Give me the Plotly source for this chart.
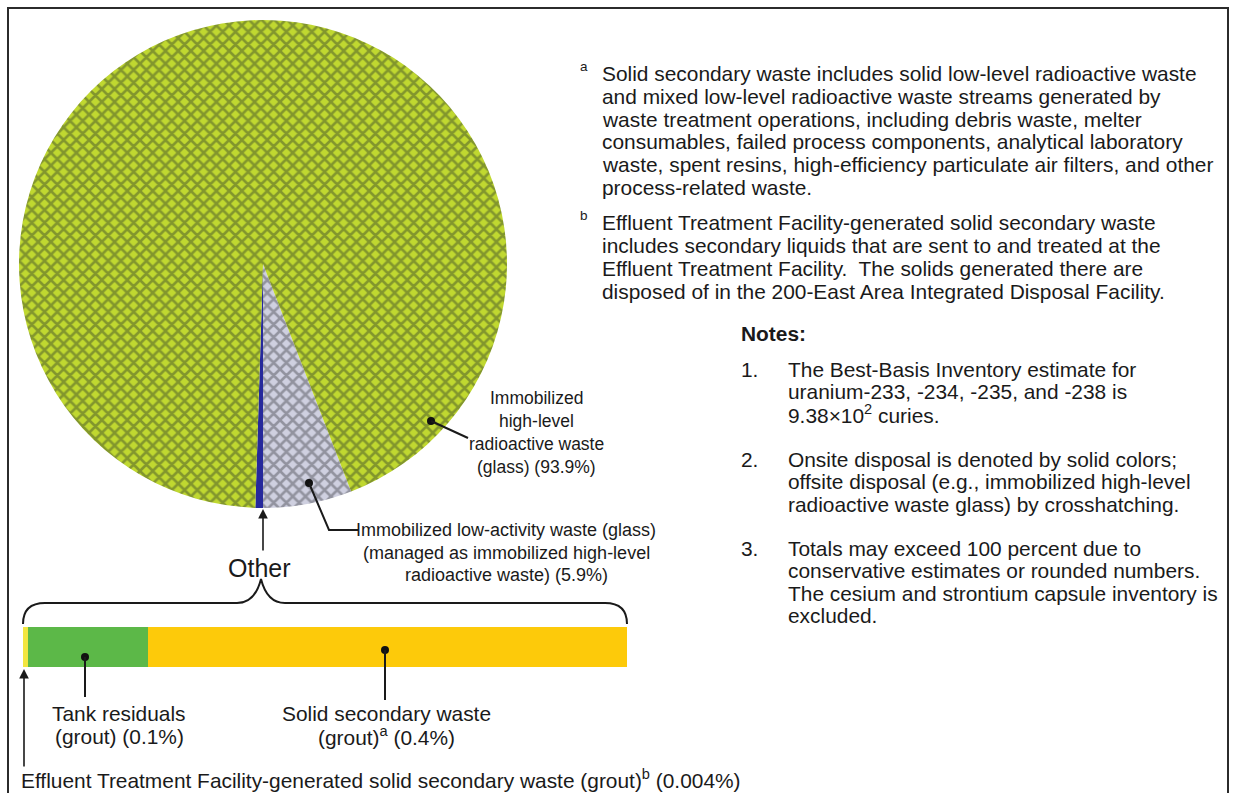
import plotly.graph_objects as go

W, H = 1233, 793
FONT = "Liberation Sans, Arial, sans-serif"

# ---------------- data ----------------
pie_labels = ["Immobilized low-activity waste (glass)", "Other", "Immobilized high-level radioactive waste (glass)"]
pie_values = [5.9, 0.504, 93.9]
pie_bg = ["#cfd0e0", "#26299c", "#c0d830"]
pie_fg = ["#55555e", "#26299c", "#44532a"]
pie_shape = ["x", "", "x"]

bar_labels = ["Effluent Treatment Facility-generated solid secondary waste (grout)",
              "Tank residuals (grout)", "Solid secondary waste (grout)"]
bar_values = [0.004, 0.1, 0.4]
bar_colors = ["#f2e640", "#5cb848", "#fdca0a"]

footnote_a = ["Solid secondary waste includes solid low-level radioactive waste",
              "and mixed low-level radioactive waste streams generated by",
              "waste treatment operations, including debris waste, melter",
              "consumables, failed process components, analytical laboratory",
              "waste, spent resins, high-efficiency particulate air filters, and other",
              "process-related waste."]
footnote_b = ["Effluent Treatment Facility-generated solid secondary waste",
              "includes secondary liquids that are sent to and treated at the",
              "Effluent Treatment Facility.  The solids generated there are",
              "disposed of in the 200-East Area Integrated Disposal Facility."]
notes = [["The Best-Basis Inventory estimate for",
          "uranium-233, -234, -235, and -238 is",
          "9.38×10<sup>2</sup> curies."],
         ["Onsite disposal is denoted by solid colors;",
          "offsite disposal (e.g., immobilized high-level",
          "radioactive waste glass) by crosshatching."],
         ["Totals may exceed 100 percent due to",
          "conservative estimates or rounded numbers.",
          "The cesium and strontium capsule inventory is",
          "excluded."]]

hlw_label = ["Immobilized", "high-level", "radioactive waste", "(glass) (93.9%)"]
law_label = ["Immobilized low-activity waste (glass)",
             "(managed as immobilized high-level",
             "radioactive waste) (5.9%)"]
tank_label = ["Tank residuals", "(grout) (0.1%)"]
ssw_label = ["Solid secondary waste", "(grout)<sup>a</sup> (0.4%)"]
etf_label = "Effluent Treatment Facility-generated solid secondary waste (grout)<sup>b</sup> (0.004%)"


def X(px):
    return px / W


def Y(py):
    return 1 - py / H


fig = go.Figure()

# pie
cx, cy, r = 263, 264, 244
start = 180 - pie_values[0] / sum(pie_values) * 360
fig.add_trace(go.Pie(
    labels=pie_labels, values=pie_values, sort=False, direction="clockwise",
    rotation=start, textinfo="none", hoverinfo="label+value", showlegend=False,
    domain=dict(x=[X(cx - r), X(cx + r)], y=[Y(cy + r), Y(cy - r)]),
    marker=dict(colors=pie_bg, line=dict(width=0),
                pattern=dict(shape=pie_shape, fgcolor=pie_fg, bgcolor=pie_bg,
                             size=9, solidity=0.5, fillmode="overlay")),
))

# stacked bar
for lab, val, col in zip(bar_labels, bar_values, bar_colors):
    fig.add_trace(go.Bar(x=[val], y=[0], orientation="h", name=lab, width=1,
                         marker=dict(color=col, line=dict(width=0)),
                         xaxis="x2", yaxis="y2", showlegend=False))

fig.update_layout(
    width=W, height=H, margin=dict(l=0, r=0, t=0, b=0),
    paper_bgcolor="white", plot_bgcolor="white", barmode="stack",
    font=dict(family=FONT, color="#1a1a1a"),
    xaxis2=dict(domain=[X(23), X(627)], range=[0, sum(bar_values)], visible=False,
                fixedrange=True, anchor="y2"),
    yaxis2=dict(domain=[Y(667), Y(627)], range=[-0.5, 0.5], visible=False,
                fixedrange=True, anchor="x2"),
)

shapes = []
# frame
shapes.append(dict(type="rect", xref="paper", yref="paper", x0=X(8), x1=X(1228), y0=Y(805), y1=Y(8),
                   line=dict(color="#2b2b2b", width=2)))
# brace
bx0, bx1, by, tipx, tipy, endy = 23, 627, 603, 261, 579, 624
path = (f"M {X(bx0)},{Y(endy)} Q {X(bx0)},{Y(by)} {X(bx0+22)},{Y(by)} "
        f"L {X(tipx-24)},{Y(by)} Q {X(tipx-6)},{Y(by)} {X(tipx)},{Y(tipy)} "
        f"Q {X(tipx+6)},{Y(by)} {X(tipx+24)},{Y(by)} "
        f"L {X(bx1-22)},{Y(by)} Q {X(bx1)},{Y(by)} {X(bx1)},{Y(endy)}")
shapes.append(dict(type="path", xref="paper", yref="paper", path=path,
                   line=dict(color="#1a1a1a", width=2)))


def dot(x, y, rad=4):
    shapes.append(dict(type="circle", xref="paper", yref="paper",
                       x0=X(x - rad), x1=X(x + rad), y0=Y(y + rad), y1=Y(y - rad),
                       fillcolor="#111", line=dict(color="#111", width=0)))


def seg(pts, w=2):
    p = "M " + " L ".join(f"{X(a)},{Y(b)}" for a, b in pts)
    shapes.append(dict(type="path", xref="paper", yref="paper", path=p,
                       line=dict(color="#1a1a1a", width=w)))


# leader lines
dot(431, 421); seg([(431, 421), (468, 438)])
dot(309, 483); seg([(309, 483), (329, 530), (358, 530)])
dot(85, 657); seg([(85, 657), (85, 697)])
dot(385, 650); seg([(385, 650), (385, 700)])

fig.update_layout(shapes=shapes)

ann = []


def text(x, y, s, size=20.9, anchor="left", bold=False):
    ann.append(dict(x=X(x), y=Y(y), xref="paper", yref="paper", text=(f"<b>{s}</b>" if bold else s),
                    showarrow=False, xanchor=anchor, yanchor="middle",
                    font=dict(size=size, family=FONT, color="#1a1a1a")))


def arrow(x, y_tip, y_tail):
    ann.append(dict(x=X(x), y=Y(y_tip), xref="paper", yref="paper", text="",
                    showarrow=True, ax=0, ay=y_tail - y_tip, arrowhead=2, arrowsize=1.2,
                    arrowwidth=1.6, arrowcolor="#1a1a1a"))


# right-side footnotes
text(578, 66, "a", size=13.5)
for i, s in enumerate(footnote_a):
    text(600, 74 + i * 22.6, s)
text(578, 215, "b", size=13.5)
for i, s in enumerate(footnote_b):
    text(600, 223 + i * 22.9, s)

text(739, 333, "Notes:", bold=True)
note_y = [369, 459, 548]
for n, (y0, lines) in enumerate(zip(note_y, notes), start=1):
    text(739, y0, f"{n}.")
    for i, s in enumerate(lines):
        text(786, y0 + i * 22.6, s)

# pie labels
for i, s in enumerate(hlw_label):
    text(536, 398 + i * 23, s, size=17.5, anchor="center")
for i, s in enumerate(law_label):
    text(506, 530 + i * 22.6, s, size=18, anchor="center")

text(259, 568, "Other", size=25, anchor="center")
arrow(263, 509, 552)

# bar labels
for i, s in enumerate(tank_label):
    text(119, 713 + i * 23, s, anchor="center")
for i, s in enumerate(ssw_label):
    text(386, 713 + i * 23, s, anchor="center")
arrow(24, 669, 768)
text(19, 779, etf_label)

fig.update_layout(annotations=ann)

fig.write_html("out.html", config={"displayModeBar": False},
               post_script="document.body.style.margin='0';document.body.style.overflow='hidden';")
